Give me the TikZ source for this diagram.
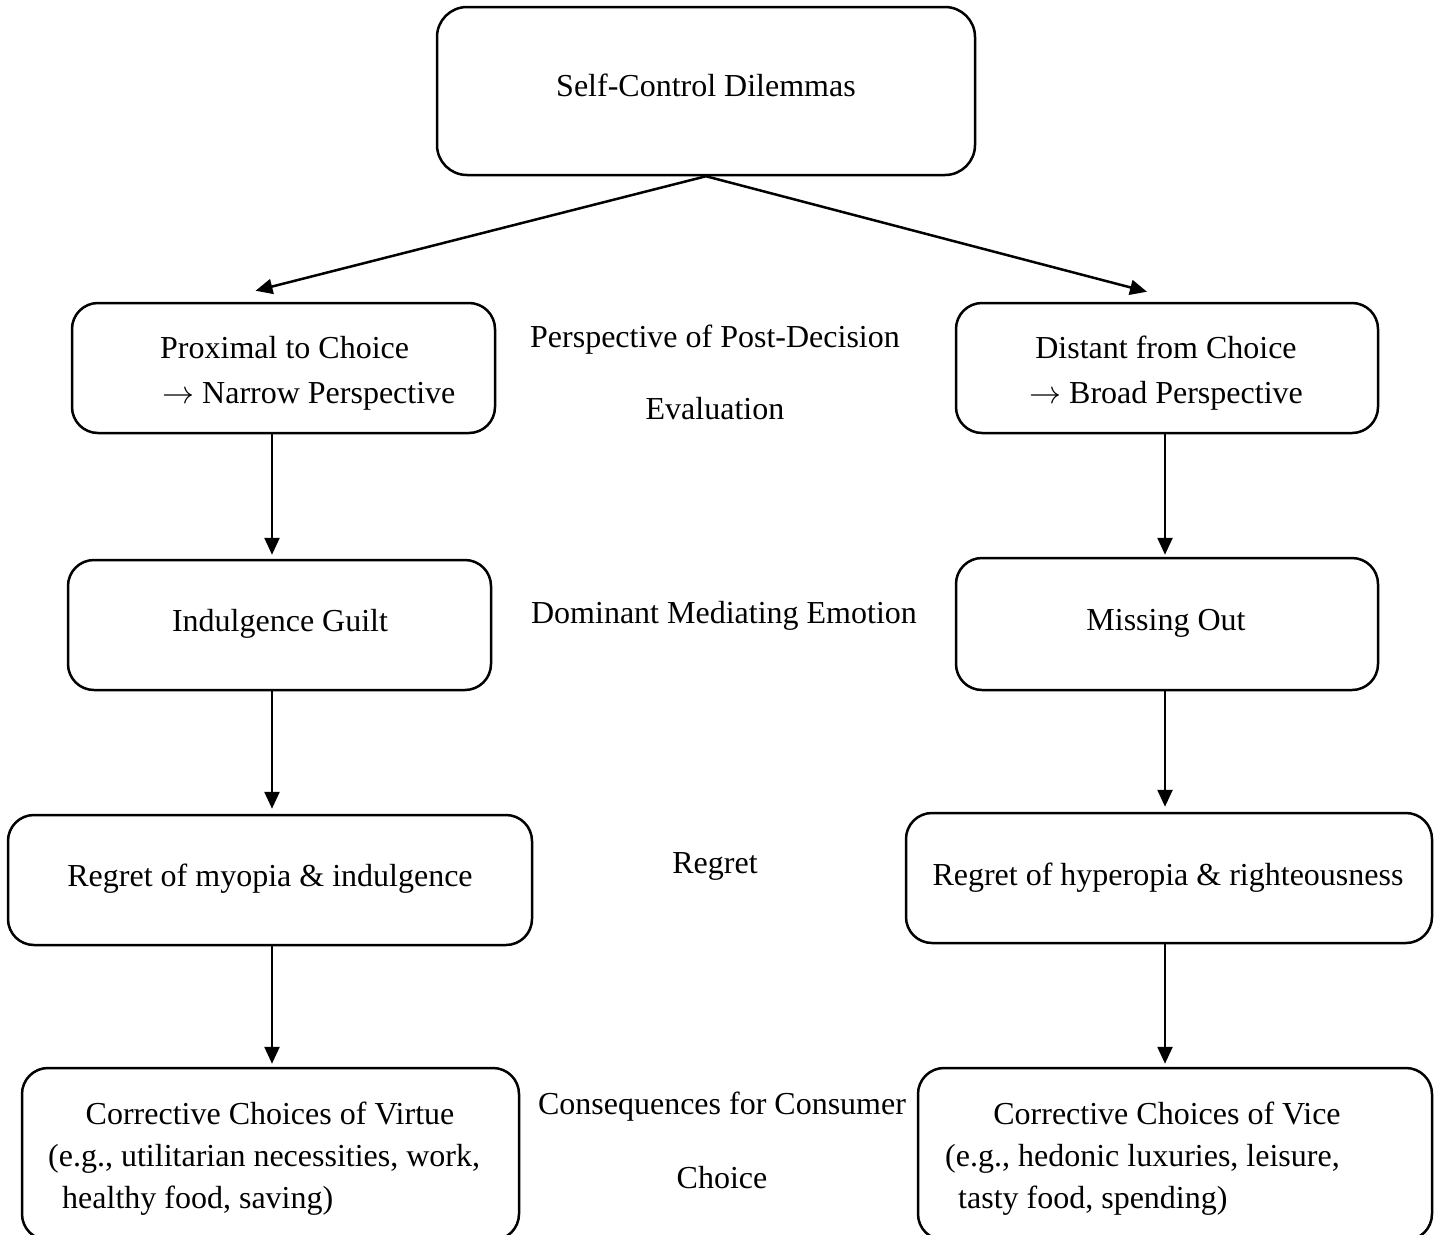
\RequirePackage{fix-cm}
\documentclass[tikz,border=0pt]{standalone}
\usepackage{fontspec}
\setmainfont{Liberation Serif}
\usetikzlibrary{arrows.meta}
\newcommand{\myarrow}{\(\rightarrow\)}
\begin{document}
\begin{tikzpicture}[x=1pt,y=-1pt,
  box/.style={draw, line width=2.5pt, rounded corners=26pt, inner sep=0pt},
  lbl/.style={inner sep=0pt, font=\fontsize{32}{38}\selectfont},
  arr/.style={line width=2.5pt, -{Triangle[length=17pt,width=15pt]}}]
\useasboundingbox (0,0) rectangle (1440,1234);
\clip (0,0) rectangle (1440,1234);
% boxes
\node[box, rounded corners=30pt, minimum width=538pt, minimum height=168pt] (top) at (706,91) {};
\node[box, minimum width=423pt, minimum height=130pt] (pl) at (283.5,368) {};
\node[box, minimum width=422pt, minimum height=130pt] (pr) at (1167,368) {};
\node[box, minimum width=423pt, minimum height=130pt] (ig) at (279.5,625) {};
\node[box, minimum width=422pt, minimum height=132pt] (mo) at (1167,624) {};
\node[box, minimum width=524pt, minimum height=130pt] (rl) at (270,880) {};
\node[box, minimum width=526pt, minimum height=130pt] (rr) at (1169,878) {};
\node[box, minimum width=497pt, minimum height=172pt] (cl5) at (270.5,1154) {};
\node[box, minimum width=514pt, minimum height=172pt] (cr5) at (1175,1154) {};
% column coordinates
\coordinate (cl) at (272,0);
\coordinate (cr) at (1165,0);
% texts
\node[lbl, anchor=base] (ttop) at (706,96) {Self-Control Dilemmas};
\node[lbl, anchor=base west] (tpl1) at (160,358) {Proximal to Choice};
\node[lbl, anchor=base west] (tpl2) at (162,403) {\myarrow\ Narrow Perspective};
\node[lbl, anchor=base] (tpr1) at (1166,358) {Distant from Choice};
\node[lbl, anchor=base] (tpr2) at (1166,403) {\myarrow\ Broad Perspective};
\node[lbl, anchor=base] (m1a) at (715,347) {Perspective of Post-Decision};
\node[lbl, anchor=base] (m1b) at (715,419) {Evaluation};
\node[lbl, anchor=base] (tig) at (280,631) {Indulgence Guilt};
\node[lbl, anchor=base] (tmo) at (1166,630) {Missing Out};
\node[lbl, anchor=base] (m2) at (724,623) {Dominant Mediating Emotion};
\node[lbl, anchor=base] (trl) at (270,886) {Regret of myopia \& indulgence};
\node[lbl, anchor=base] (trr) at (1168,885) {Regret of hyperopia \& righteousness};
\node[lbl, anchor=base] (m3) at (715,873) {Regret};
\node[lbl, anchor=base] (tcl1) at (270,1124) {Corrective Choices of Virtue};
\node[lbl, anchor=base west] (tcl2) at (48,1166) {(e.g., utilitarian necessities, work,};
\node[lbl, anchor=base west] (tcl3) at (62,1208) {healthy food, saving)};
\node[lbl, anchor=base] (tcr1) at (1167,1124) {Corrective Choices of Vice};
\node[lbl, anchor=base west] (tcr2) at (945,1166) {(e.g., hedonic luxuries, leisure,};
\node[lbl, anchor=base west] (tcr3) at (958,1208) {tasty food, spending)};
\node[lbl, anchor=base] (m4a) at (722,1114) {Consequences for Consumer};
\node[lbl, anchor=base] (m4b) at (722,1188) {Choice};
% connectors
\draw[arr] (top.south) -- ([xshift=-28pt,yshift=11pt]pl.north);
\draw[arr] (top.south) -- ([xshift=-20pt,yshift=10pt]pr.north);
\draw[arr, shorten >=4pt] (pl.south -| cl) -- (ig.north -| cl);
\draw[arr, shorten >=5pt] (ig.south -| cl) -- (rl.north -| cl);
\draw[arr, shorten >=3pt] (rl.south -| cl) -- (cl5.north -| cl);
\draw[arr, shorten >=2pt] (pr.south -| cr) -- (mo.north -| cr);
\draw[arr, shorten >=5pt] (mo.south -| cr) -- (rr.north -| cr);
\draw[arr, shorten >=3pt] (rr.south -| cr) -- (cr5.north -| cr);
\end{tikzpicture}
\end{document}
